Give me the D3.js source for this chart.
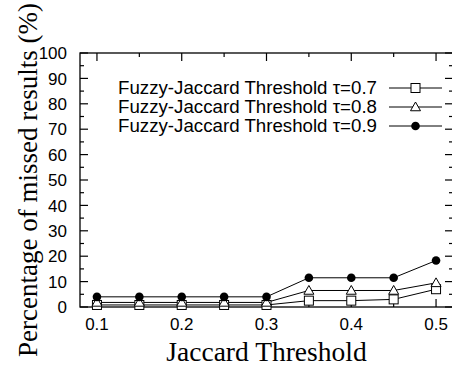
<!DOCTYPE html>
<html>
<head>
<meta charset="utf-8">
<script src="https://cdn.jsdelivr.net/npm/d3@7/dist/d3.min.js"></script>
<style>
  html, body { margin: 0; padding: 0; background: #fff; }
  svg { display: block; }
</style>
</head>
<body>
<script>
// Jaccard thresholds on the x axis
const thresholds = [0.1, 0.15, 0.2, 0.25, 0.3, 0.35, 0.4, 0.45, 0.5];
// Percentage of missed results for each Fuzzy-Jaccard threshold
const tau07 = [0.8, 0.8, 0.8, 0.8, 0.8, 2.5, 2.5, 3, 7];
const tau08 = [1.8, 1.8, 1.8, 1.8, 1.8, 6.5, 6.5, 6.5, 9.5];
const tau09 = [4, 4, 4, 4, 4, 11.5, 11.5, 11.5, 18.3];
const seriesLabels = ["Fuzzy-Jaccard Threshold \u03C4=0.7", "Fuzzy-Jaccard Threshold \u03C4=0.8", "Fuzzy-Jaccard Threshold \u03C4=0.9"];
const xTicks = [0.1, 0.2, 0.3, 0.4, 0.5];
const xMinorTicks = [0.15, 0.25, 0.35, 0.45];
const yTicks = [0, 10, 20, 30, 40, 50, 60, 70, 80, 90, 100];
const yMinorTicks = [5, 15, 25, 35, 45, 55, 65, 75, 85, 95];

const W = 452, H = 366;
const plotL = 80, plotR = 453, plotT = 53, plotB = 307;

const svg = d3.select("body").append("svg").attr("width", W).attr("height", H);

const x = d3.scaleLinear().domain([0.08, 0.52]).range([plotL, plotR]);
const y = d3.scaleLinear().domain([0, 100]).range([plotB, plotT]);

const sans = "'Liberation Sans', Arial, sans-serif";
const serif = "'Liberation Serif', 'Times New Roman', serif";

// Frame
svg.append("rect").attr("x", plotL).attr("y", plotT)
  .attr("width", plotR - plotL).attr("height", plotB - plotT)
  .attr("fill", "none").attr("stroke", "#000").attr("stroke-width", 1.3);

const tickG = svg.append("g").attr("stroke", "#000").attr("stroke-width", 1.2);
// x ticks on bottom and top, pointing inward
xTicks.forEach(v => {
  tickG.append("line").attr("x1", x(v)).attr("x2", x(v)).attr("y1", plotB).attr("y2", plotB - 8);
  tickG.append("line").attr("x1", x(v)).attr("x2", x(v)).attr("y1", plotT).attr("y2", plotT + 8);
});
xMinorTicks.forEach(v => {
  tickG.append("line").attr("x1", x(v)).attr("x2", x(v)).attr("y1", plotB).attr("y2", plotB - 4);
  tickG.append("line").attr("x1", x(v)).attr("x2", x(v)).attr("y1", plotT).attr("y2", plotT + 4);
});
// y ticks on left and right
yTicks.forEach(v => {
  tickG.append("line").attr("x1", plotL).attr("x2", plotL + 8).attr("y1", y(v)).attr("y2", y(v));
  tickG.append("line").attr("x1", plotR).attr("x2", plotR - 8).attr("y1", y(v)).attr("y2", y(v));
});
yMinorTicks.forEach(v => {
  tickG.append("line").attr("x1", plotL).attr("x2", plotL + 4).attr("y1", y(v)).attr("y2", y(v));
  tickG.append("line").attr("x1", plotR).attr("x2", plotR - 4).attr("y1", y(v)).attr("y2", y(v));
});

// Tick labels
svg.append("g").selectAll("text").data(xTicks).join("text")
  .attr("x", d => x(d)).attr("y", 330)
  .attr("text-anchor", "middle")
  .attr("font-family", sans).attr("font-size", 17)
  .text(d => d3.format(".1f")(d));

svg.append("g").selectAll("text").data(yTicks).join("text")
  .attr("x", 67).attr("y", d => y(d)).attr("dy", "0.36em")
  .attr("text-anchor", "end")
  .attr("font-family", sans).attr("font-size", 17)
  .text(d => d);

// Axis titles
svg.append("text")
  .attr("x", (plotL + plotR) / 2).attr("y", 361)
  .attr("text-anchor", "middle")
  .attr("font-family", serif).attr("font-size", 27.5)
  .text("Jaccard Threshold");

svg.append("text")
  .attr("transform", `translate(37,${(plotT + plotB) / 2}) rotate(-90)`)
  .attr("text-anchor", "middle")
  .attr("font-family", serif).attr("font-size", 27)
  .text("Percentage of missed results (%)");

// Marker drawing
function drawMarker(g, type, cx, cy) {
  if (type === "square") {
    g.append("rect").attr("x", cx - 4.5).attr("y", cy - 4.5).attr("width", 9).attr("height", 9)
      .attr("fill", "#fff").attr("stroke", "#000").attr("stroke-width", 1);
  } else if (type === "triangle") {
    const s = 5;
    g.append("path")
      .attr("d", `M${cx},${cy - s} L${cx + s},${cy + s * 0.75} L${cx - s},${cy + s * 0.75} Z`)
      .attr("fill", "#fff").attr("stroke", "#000").attr("stroke-width", 1);
  } else {
    g.append("circle").attr("cx", cx).attr("cy", cy).attr("r", 4.3).attr("fill", "#000");
  }
}

const series = [
  { values: tau07, marker: "square" },
  { values: tau08, marker: "triangle" },
  { values: tau09, marker: "circle" }
];

const line = d3.line().x(d => x(d[0])).y(d => y(d[1]));

series.forEach(s => {
  const pts = thresholds.map((t, i) => [t, s.values[i]]);
  svg.append("path").attr("d", line(pts))
    .attr("fill", "none").attr("stroke", "#000").attr("stroke-width", 1);
});
series.forEach(s => {
  const g = svg.append("g");
  thresholds.forEach((t, i) => drawMarker(g, s.marker, x(t), y(s.values[i])));
});

// Legend
const legendY = [88, 107, 126];
series.forEach((s, i) => {
  const ly = legendY[i];
  svg.append("text").attr("x", 377).attr("y", ly).attr("dy", "0.36em")
    .attr("text-anchor", "end")
    .attr("font-family", sans).attr("font-size", 17.5)
    .attr("textLength", 259).attr("lengthAdjust", "spacingAndGlyphs")
    .text(seriesLabels[i]);
  svg.append("line").attr("x1", 389).attr("x2", 442).attr("y1", ly).attr("y2", ly)
    .attr("stroke", "#000").attr("stroke-width", 1);
  drawMarker(svg.append("g"), s.marker, 415.5, ly);
});
</script>
</body>
</html>
